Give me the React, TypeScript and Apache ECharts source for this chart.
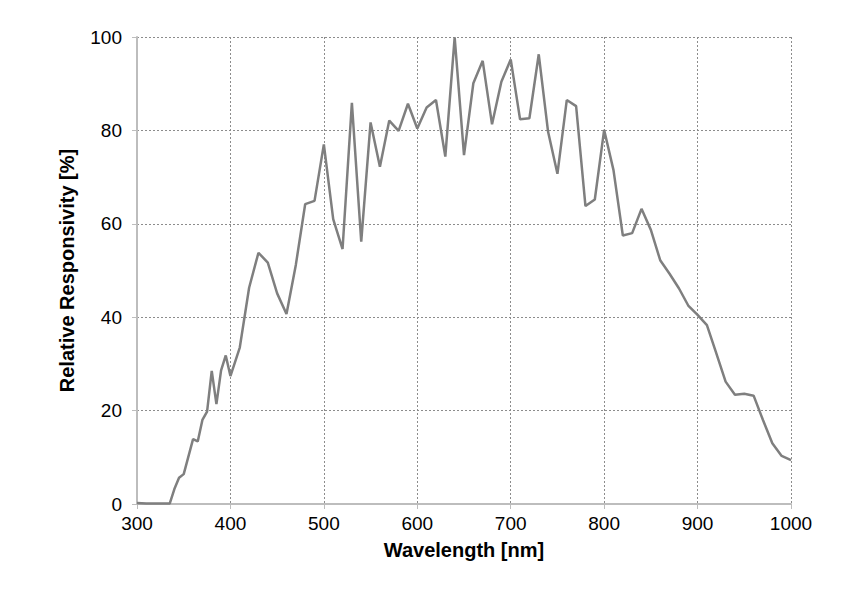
import React, { useEffect, useRef } from "react";
import * as echarts from "echarts";

const wavelengths: number[] = [
  300, 310, 320, 330, 335, 340, 345, 350, 360, 365, 370, 375, 380, 385, 390, 395,
  400, 410, 420, 430, 440, 450, 460, 470, 480, 490, 500, 510, 520, 530, 540, 550,
  560, 570, 580, 590, 600, 610, 620, 630, 640, 650, 660, 670, 680, 690, 700, 710,
  720, 730, 740, 750, 760, 770, 780, 790, 800, 810, 820, 830, 840, 850, 860, 870,
  880, 890, 900, 910, 920, 930, 940, 950, 960, 970, 980, 990, 1000,
];

const responsivity: number[] = [
  0.2, 0.1, 0.1, 0.1, 0.1, 3.2, 5.6, 6.4, 13.9, 13.4, 18.0, 19.8, 28.5, 21.4, 28.6, 31.8,
  27.4, 33.5, 46.3, 53.8, 51.7, 45.1, 40.7, 51.2, 64.2, 64.9, 77.0, 61.0, 54.6, 85.9, 56.2, 81.7,
  72.2, 82.1, 79.9, 85.7, 80.4, 84.9, 86.5, 74.4, 99.9, 74.7, 90.1, 94.9, 81.3, 90.4, 95.2, 82.4,
  82.6, 96.3, 79.7, 70.7, 86.5, 85.2, 63.8, 65.2, 80.1, 71.5, 57.5, 58.0, 63.2, 58.7, 52.2, 49.3,
  46.2, 42.5, 40.5, 38.3, 32.3, 26.2, 23.4, 23.6, 23.2, 18.0, 13.0, 10.3, 9.4,
];

const xTicks = { min: 300, max: 1000, interval: 100 };
const yTicks = { min: 0, max: 100, interval: 20 };

export default function App() {
  const ref = useRef<HTMLDivElement>(null);
  useEffect(() => {
    if (!ref.current) return;
    const chart = echarts.init(ref.current, undefined, { renderer: "svg" });
    const data = wavelengths.map((w, i) => [w, responsivity[i]]);
    const gridLine = { show: true, lineStyle: { color: "#8c8c8c", type: [2, 2] as any, width: 1 } };
    const font = "'Liberation Sans', Arial, sans-serif";
    chart.setOption({
      animation: false,
      backgroundColor: "#ffffff",
      grid: { left: 137, right: 69, top: 37, bottom: 96, containLabel: false },
      xAxis: {
        type: "value",
        min: xTicks.min,
        max: xTicks.max,
        interval: xTicks.interval,
        name: "Wavelength [nm]",
        nameLocation: "middle",
        nameGap: 36,
        nameTextStyle: { fontFamily: font, fontSize: 20, fontWeight: "bold", color: "#000" },
        axisLine: { show: true, onZero: false, lineStyle: { color: "#bdbdbd", width: 2 } },
        axisTick: { show: true, length: 5, lineStyle: { color: "#bdbdbd" } },
        axisLabel: {
          fontFamily: font,
          fontSize: 19,
          color: "#000",
          margin: 10,
          formatter: (v: number) => String(v),
        },
        splitLine: gridLine,
      },
      yAxis: {
        type: "value",
        min: yTicks.min,
        max: yTicks.max,
        interval: yTicks.interval,
        name: "Relative Responsivity [%]",
        nameLocation: "middle",
        nameGap: 60,
        nameTextStyle: { fontFamily: font, fontSize: 20, fontWeight: "bold", color: "#000" },
        axisLine: { show: true, lineStyle: { color: "#bdbdbd", width: 2 } },
        axisTick: { show: true, length: 5, lineStyle: { color: "#bdbdbd" } },
        axisLabel: {
          fontFamily: font,
          fontSize: 19,
          color: "#000",
          margin: 15,
          formatter: (v: number) => String(v),
        },
        splitLine: gridLine,
      },
      series: [
        {
          type: "line",
          data,
          showSymbol: false,
          symbol: "none",
          lineStyle: { color: "#7f7f7f", width: 2.5 },
          itemStyle: { color: "#7f7f7f" },
        },
      ],
    });
    return () => chart.dispose();
  }, []);
  return <div ref={ref} style={{ width: 860, height: 600, position: "absolute", left: 0, top: 0 }} />;
}
